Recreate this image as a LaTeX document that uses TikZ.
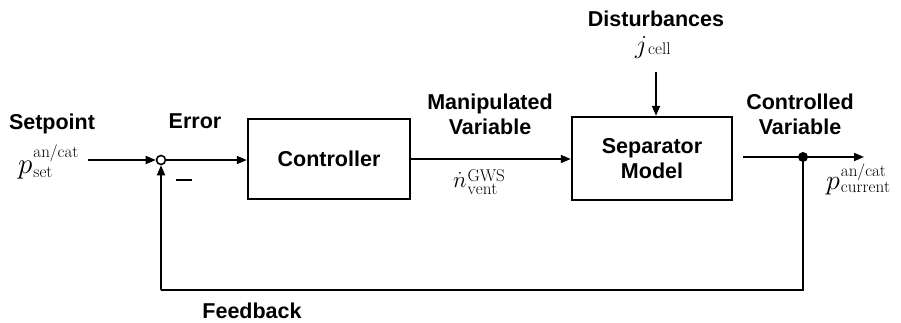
\RequirePackage{fix-cm}
\documentclass[tikz,border=0pt]{standalone}
\usepackage{fontspec}
\setsansfont{Liberation Sans}
\usetikzlibrary{arrows.meta}
% symbol with stacked super- and subscript:
% #1 base size, #2 base (math), #3 superscript, #4 subscript, #5 raise, #6 drop
\newsavebox\supbox
\newsavebox\subbox
\newcommand{\msym}[6]{%
  \sbox\supbox{\fontsize{17}{17}\selectfont$\mathrm{#3}$}%
  \sbox\subbox{\fontsize{17}{17}\selectfont$\mathrm{#4}$}%
  {\fontsize{#1}{#1}\selectfont$#2$}\kern1pt
  \rlap{\raisebox{#5}{\usebox\supbox}}%
  \raisebox{-#6}{\usebox\subbox}%
  \ifdim\wd\supbox>\wd\subbox \kern\dimexpr\wd\supbox-\wd\subbox\relax\fi}
\tikzset{
  lbl/.style={font=\fontsize{21.5}{25}\selectfont\sffamily\bfseries, inner sep=0pt, align=center},
  sym/.style={inner sep=0pt, anchor=base west},
  blockbox/.style={draw, line width=2.4pt, inner sep=0pt, font=\fontsize{21.5}{25}\selectfont\sffamily\bfseries, align=center},
  sig/.style={line width=1.8pt, -{Triangle[length=10pt,width=8pt]}},
  wire/.style={line width=1.8pt}
}
\begin{document}
\begin{tikzpicture}[x=1pt,y=-1pt]
\useasboundingbox (0,0) rectangle (901,322);

% blocks
\node[blockbox, minimum width=162pt, minimum height=80pt] (ctrl) at (329,159) {Controller};
\node[blockbox, minimum width=160pt, minimum height=83pt] (sep) at (652,158.5) {Separator\\Model};

% summing junction
\node[circle, draw, line width=1.6pt, minimum size=9pt, inner sep=0pt] (sum) at (161,160) {};

% labels
\node[lbl, anchor=base] (spl) at (52,129) {Setpoint};
\node[sym] (pset) at (18,173) {\msym{29}{p}{an/cat}{set}{16pt}{4pt}};
\node[lbl, anchor=base] (err) at (195,128) {Error};
\node[lbl] (minus) at (184,180) {\rule{16pt}{2pt}};
\node[lbl] (mvl) at (490,114) {Manipulated\\Variable};
\node[sym] (ndot) at (453,187) {\msym{23}{\dot{n}}{GWS}{vent}{6pt}{7pt}};
\node[lbl, anchor=base] (dist) at (656,26) {Disturbances};
\node[sym] (jcell) at (635,53) {\msym{26}{j}{}{cell}{0pt}{1pt}};
\node[lbl] (cvl) at (800,114) {Controlled\\Variable};
\node[sym] (pcur) at (826,189) {\msym{28}{p}{an/cat}{current}{13pt}{3pt}};
\node[lbl, anchor=base] (fbl) at (252,318) {Feedback};

% signal path
\coordinate (inA) at (88,160);
\coordinate (dTop) at (656,72);
\coordinate (outA) at (743,157);
\coordinate (outB) at (864,157);
\coordinate (tap) at (803,157);
\coordinate (fbR) at (803,290);
\coordinate (fbL) at (161,290);

\draw[sig] (inA) -- (sum.west);
\draw[sig] (sum.east) -- (ctrl.west |- sum);
\draw[sig] (ctrl.east |- 0,159) -- (sep.west |- 0,159);
\draw[sig] (dTop) -- (sep.north -| dTop);
\draw[sig] (outA) -- (outB);
\fill (tap) circle (5pt);
\draw[wire] (tap) -- (fbR) -- (fbL);
\draw[sig] (fbL) -- (sum.south);
\end{tikzpicture}
\end{document}
